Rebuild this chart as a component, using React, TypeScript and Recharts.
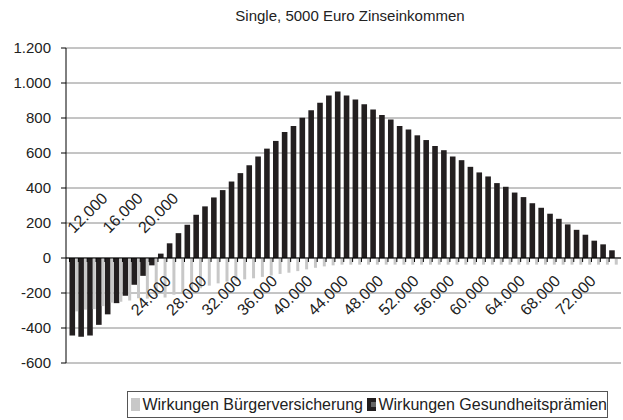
import React from 'react';
import { BarChart, Bar, XAxis, YAxis, CartesianGrid, ReferenceLine } from 'recharts';

document.body.style.margin = '0';

// Einkommen (Euro), one category per 1.000
const incomes = [
  12000, 13000, 14000, 15000, 16000, 17000, 18000, 19000, 20000, 21000,
  22000, 23000, 24000, 25000, 26000, 27000, 28000, 29000, 30000, 31000,
  32000, 33000, 34000, 35000, 36000, 37000, 38000, 39000, 40000, 41000,
  42000, 43000, 44000, 45000, 46000, 47000, 48000, 49000, 50000, 51000,
  52000, 53000, 54000, 55000, 56000, 57000, 58000, 59000, 60000, 61000,
  62000, 63000, 64000, 65000, 66000, 67000, 68000, 69000, 70000, 71000,
  72000, 73000,
];

const buergerversicherung = [
  -305, -295, -292, -275, -255, -250, -243, -230, -232, -218,
  -226, -210, -195, -181, -173, -158, -145, -135, -128, -122,
  -116, -108, -100, -91, -84, -75, -65, -56, -48, -42,
  -38, -38, -38, -38, -38, -38, -38, -38, -38, -38,
  -38, -38, -38, -38, -38, -38, -38, -38, -38, -38,
  -38, -38, -38, -38, -38, -38, -38, -38, -38, -38,
  -38, -38,
];

const gesundheitspraemien = [
  -443, -450, -443, -382, -322, -258, -215, -153, -102, -42,
  25, 84, 142, 190, 247, 295, 346, 388, 437, 485,
  530, 580, 625, 669, 720, 754, 802, 844, 887, 929,
  952, 929, 906, 878, 849, 817, 792, 754, 735, 701,
  674, 640, 616, 580, 559, 521, 489, 466, 428, 407,
  374, 348, 313, 287, 253, 224, 192, 161, 133, 99,
  78, 44,
];

const yTicks = [-600, -400, -200, 0, 200, 400, 600, 800, 1000, 1200];
const labelsAbove = [12000, 16000, 20000];
const labelEvery = 4;

const data = incomes.map((income, i) => ({
  income,
  bv: buergerversicherung[i],
  gp: gesundheitspraemien[i],
}));

const W = 623;
const H = 420;
const TOP = 48;
const BOTTOM = 363;
const Y_MIN = -600;
const Y_MAX = 1200;
const ZERO_Y = TOP + ((BOTTOM - TOP) * Y_MAX) / (Y_MAX - Y_MIN);
const FONT = '"Liberation Sans", Arial, sans-serif';
const DARK = '#231f20';
const LIGHT = '#c8c8c8';

const fmt = (v: number) => {
  const s = Math.abs(v).toString().replace(/\B(?=(\d{3})+(?!\d))/g, '.');
  return v < 0 ? '-' + s : s;
};

const XTick = (props: any) => {
  const { x, payload, index } = props;
  const half = payload.offset ?? 0;
  const showLabel = index % labelEvery === 0;
  const above = labelsAbove.includes(payload.value);
  return (
    <g>
      <line x1={x - half} x2={x - half} y1={ZERO_Y} y2={ZERO_Y + 4} stroke="#000" />
      {showLabel &&
        (above ? (
          <text
            transform={`translate(${x},${ZERO_Y - 24}) rotate(-45)`}
            textAnchor="start"
            fontSize={16}
            fontFamily={FONT}
            fill="#222"
          >
            {fmt(payload.value)}
          </text>
        ) : (
          <text
            transform={`translate(${x - 8},${ZERO_Y + 24}) rotate(-45)`}
            textAnchor="end"
            fontSize={16}
            fontFamily={FONT}
            fill="#222"
          >
            {fmt(payload.value)}
          </text>
        ))}
    </g>
  );
};

const LegendKey = ({ color, inner }: { color: string; inner?: string }) => (
  <span
    style={{
      display: 'inline-block',
      width: 13,
      height: 13,
      background: color,
      position: 'relative',
      marginRight: 2,
    }}
  >
    {inner && (
      <span
        style={{ position: 'absolute', left: 4, top: 4, width: 5, height: 5, background: inner }}
      />
    )}
  </span>
);

export default function App() {
  return (
    <div style={{ position: 'relative', width: W, height: H, background: '#fff', fontFamily: FONT }}>
      <div
        style={{
          position: 'absolute',
          top: 7,
          left: 100,
          width: 500,
          textAlign: 'center',
          fontSize: 15,
          color: '#222',
        }}
      >
        Single, 5000 Euro Zinseinkommen
      </div>
      <BarChart
        width={W}
        height={H}
        data={data}
        margin={{ top: TOP, right: 2, bottom: 0, left: 0 }}
        barCategoryGap={0}
        barGap={0}
      >
        <CartesianGrid vertical={false} stroke="#8a8a8a" />
        <XAxis
          dataKey="income"
          interval={0}
          height={H - BOTTOM}
          axisLine={false}
          tickLine={false}
          padding={{ left: 3.5, right: 3 }}
          tick={<XTick />}
        />
        <YAxis
          width={66}
          domain={[Y_MIN, Y_MAX]}
          ticks={yTicks}
          tickFormatter={fmt}
          tickSize={5}
          tickMargin={10}
          axisLine={{ stroke: '#000' }}
          tickLine={{ stroke: '#000' }}
          tick={{ fontSize: 15, fill: '#222', fontFamily: FONT }}
        />
        <Bar dataKey="gp" fill={DARK} barSize={5.6} isAnimationActive={false} />
        <Bar dataKey="bv" fill={LIGHT} barSize={3} isAnimationActive={false} />
        <ReferenceLine y={0} stroke="#000" />
      </BarChart>
      <div
        style={{
          position: 'absolute',
          left: 127,
          top: 391,
          width: 481,
          height: 27,
          border: '1px solid #555',
          display: 'flex',
          alignItems: 'center',
          paddingLeft: 3,
          boxSizing: 'border-box',
          fontSize: 16,
          color: '#222',
          whiteSpace: 'nowrap',
        }}
      >
        <LegendKey color={LIGHT} />
        <span style={{ marginRight: 4 }}>Wirkungen Bürgerversicherung</span>
        <LegendKey color={DARK} inner="#666" />
        <span>Wirkungen Gesundheitsprämien</span>
      </div>
    </div>
  );
}
